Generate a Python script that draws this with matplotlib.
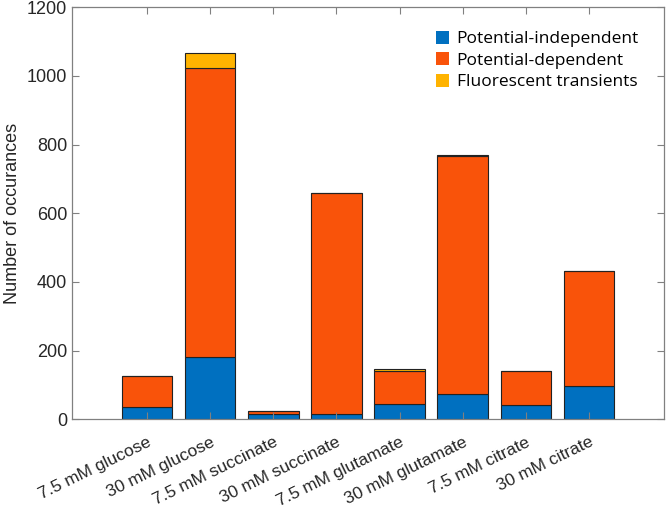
import matplotlib
matplotlib.use("Agg")
import matplotlib.pyplot as plt
import numpy as np

categories = ["7.5 mM glucose", "30 mM glucose", "7.5 mM succinate", "30 mM succinate",
              "7.5 mM glutamate", "30 mM glutamate", "7.5 mM citrate", "30 mM citrate"]
independent = [35, 182, 15, 14, 45, 74, 40, 96]
dependent = [92, 840, 10, 644, 94, 693, 101, 335]
transients = [0, 46, 0, 0, 6, 2, 0, 0]

series_names = ["Potential-independent", "Potential-dependent", "Fluorescent transients"]
series_colors = ["#0070C0", "#F9530A", "#FFB300"]

plt.rcParams["font.family"] = ["Liberation Sans", "DejaVu Sans"]

fig = plt.figure(figsize=(6.66, 5.15), dpi=100)
ax = fig.add_axes([0.108, 0.186, 0.889, 0.80])

x = np.arange(len(categories))
bottom = np.zeros(len(categories))
for name, vals, col in zip(series_names, [independent, dependent, transients], series_colors):
    vals = np.array(vals, dtype=float)
    ax.bar(x, vals, 0.8, bottom=bottom, color=col, edgecolor="#222222",
           linewidth=0.8, label=name)
    bottom += vals

ax.set_xlim(-1.19, 7 + 1.19)
ax.set_ylim(0, 1200)
ax.set_yticks(np.arange(0, 1201, 200))
ax.set_xticks(x)
ax.set_xticklabels(categories, rotation=26, ha="right", rotation_mode="anchor",
                   fontsize=12.5, color="#262626")
ax.tick_params(axis="y", labelsize=13, labelcolor="#262626")
ax.tick_params(direction="in", top=True, right=True, length=5, color="#808080", width=0.8)
ax.tick_params(axis="x", pad=11)
for s in ax.spines.values():
    s.set_color("#808080")
    s.set_linewidth(0.9)
ax.set_ylabel("Number of occurances", fontsize=13, color="#262626")

leg = ax.legend(loc="upper right", bbox_to_anchor=(0.984, 0.981), frameon=False,
                prop={"family": "Open Sans", "size": 12.5}, handlelength=0.75,
                handleheight=0.8, handletextpad=0.45, labelspacing=0.28)
for h in leg.legend_handles:
    h.set_edgecolor("none")

fig.savefig("out.png", dpi=100)
